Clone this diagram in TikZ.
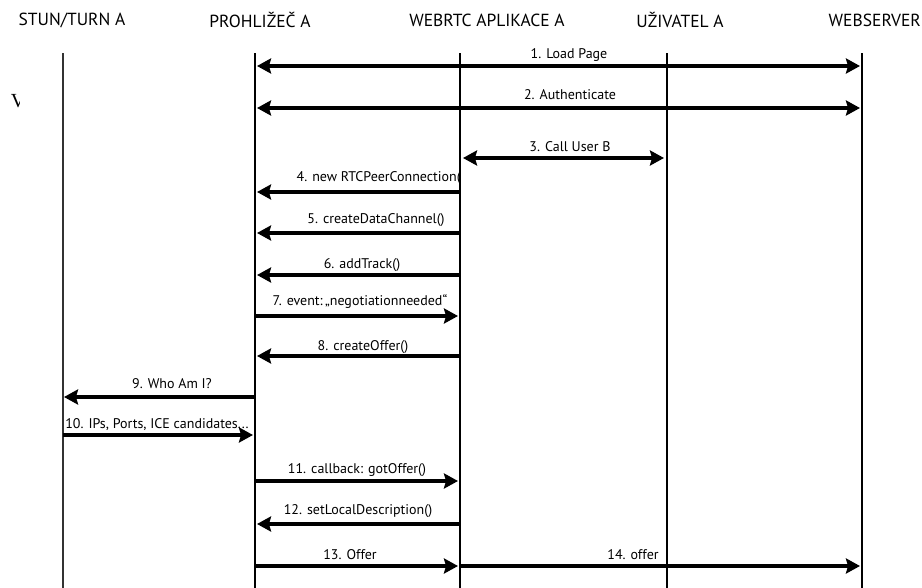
\documentclass[tikz,border=0pt]{standalone}
\usepackage{fontspec}
\setmainfont{PT Sans}
\usetikzlibrary{arrows.meta}
\begin{document}
\begin{tikzpicture}[x=1pt,y=-1pt,
  head/.style={font=\fontsize{17.5}{20}\selectfont, text=black, inner sep=0pt},
  lbl/.style={font=\fontsize{14}{16}\selectfont, text=black, inner sep=0pt},
  life/.style={line width=2.6pt, black},
  msg/.style={line width=4.5pt, -{Stealth[length=14pt,width=15pt,inset=2pt]}},
  msgb/.style={line width=4.5pt, {Stealth[length=14pt,width=15pt,inset=2pt]}-{Stealth[length=14pt,width=15pt,inset=2pt]}}]
\useasboundingbox (0,0) rectangle (922,587);
% headers
\node[head] (hs) at (72,20) {STUN/TURN A};
\node[head] (hp) at (260,20) {PROHLIŽEČ A};
\node[head] (hw) at (487,20) {WEBRTC APLIKACE A};
\node[head] (hu) at (680,20) {UŽIVATEL A};
\node[head, anchor=east] (hv) at (921,20) {WEBSERVER};
% lifelines
\coordinate (s) at (63,53); \coordinate (sb) at (63,590);
\coordinate (p) at (255,53); \coordinate (pb) at (255,590);
\coordinate (w) at (460,53); \coordinate (wb) at (460,590);
\coordinate (u) at (667,53); \coordinate (ub) at (667,590);
\coordinate (v) at (862,53); \coordinate (vb) at (862,590);
\draw[line width=1.8pt, black!80] (s) -- (sb);
\draw[life] (p) -- (pb);
\draw[life] (w) -- (wb);
\draw[life] (u) -- (ub);
\draw[life] (v) -- (vb);
% stray glyph
\begin{scope}
\clip (5,85) rectangle (19,115);
\node[font=\fontspec{Liberation Serif}\fontsize{20}{20}\selectfont, inner sep=0pt] (vv) at (18,101) {V};
\end{scope}
% messages
\draw[msgb] ([xshift=2pt]p |- 0,66) -- ([xshift=-2pt]v |- 0,66);
\node[lbl] (l1) at (569,55) {1. Load Page};
\draw[msgb] ([xshift=2pt]p |- 0,108) -- ([xshift=-2pt]v |- 0,108);
\node[lbl] (l2) at (570,95) {2. Authenticate};
\draw[msgb] ([xshift=3pt]w |- 0,158) -- ([xshift=-3pt]u |- 0,158);
\node[lbl] (l3) at (570,147) {3. Call User B};
\draw[msg] (w |- 0,192) -- ([xshift=2pt]p |- 0,192);
\node[lbl, anchor=east] (l4) at (461,178) {4. new RTCPeerConnection(};
\draw[msg] (w |- 0,233) -- ([xshift=2pt]p |- 0,233);
\node[lbl] (l5) at (376,220) {5. createDataChannel()};
\draw[msg] (w |- 0,275) -- ([xshift=2pt]p |- 0,275);
\node[lbl] (l6) at (362,265) {6. addTrack()};
\draw[msg] (p |- 0,316) -- ([xshift=-2pt]w |- 0,316);
\node[lbl] (l7) at (360,302) {7. event:\,„negotiationneeded“};
\draw[msg] (w |- 0,356) -- ([xshift=2pt]p |- 0,356);
\node[lbl] (l8) at (363,347) {8. createOffer()};
\draw[msg] (p |- 0,397) -- ([xshift=1pt]s |- 0,397);
\node[lbl] (l9) at (172,384) {9. Who Am I?};
\draw[msg] (s |- 0,435) -- ([xshift=-2pt]p |- 0,435);
\node[lbl] (l10) at (157,425) {10. IPs, Ports, ICE candidates...};
\draw[msg] (p |- 0,481) -- ([xshift=-2pt]w |- 0,481);
\node[lbl] (l11) at (357,470) {11. callback: gotOffer()};
\draw[msg] (w |- 0,524) -- ([xshift=2pt]p |- 0,524);
\node[lbl] (l12) at (358,511) {12. setLocalDescription()};
\draw[msg] (p |- 0,566) -- ([xshift=-2pt]w |- 0,566);
\node[lbl] (l13) at (350,555) {13. Offer};
\draw[msg] (w |- 0,566) -- ([xshift=-2pt]v |- 0,566);
\node[lbl] (l14) at (633,555) {14. offer};
\end{tikzpicture}
\end{document}
